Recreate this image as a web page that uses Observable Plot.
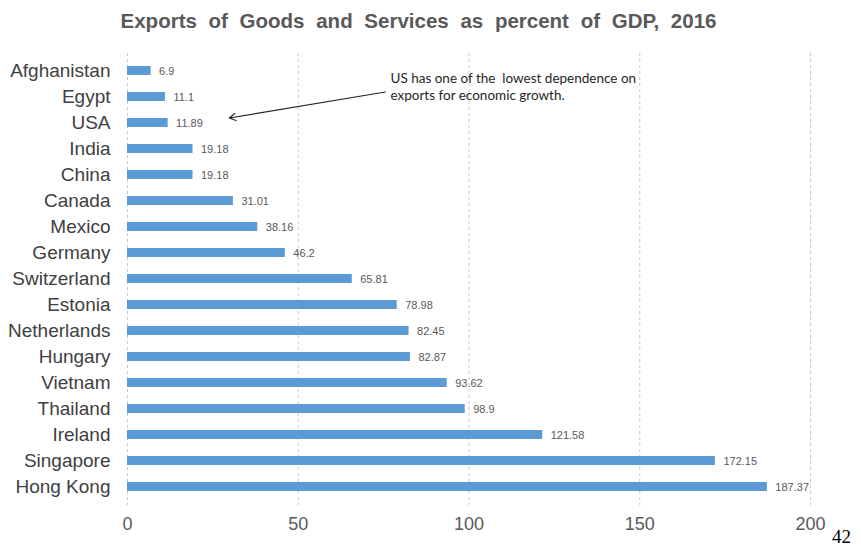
<!DOCTYPE html>
<html><head><meta charset="utf-8">
<script src="https://cdn.jsdelivr.net/npm/d3@7"></script>
<script src="https://cdn.jsdelivr.net/npm/@observablehq/plot@0.6"></script>
<style>
body{margin:0;background:#fff;}
#wrap{position:relative;width:861px;height:547px;overflow:hidden;}
#title{position:absolute;top:9px;left:0;width:837px;text-align:center;font:bold 20.5px "Liberation Sans",Arial,sans-serif;color:#595959;word-spacing:6px;white-space:nowrap;}
#page{position:absolute;left:832px;top:526px;font:19px "Liberation Serif","DejaVu Serif",serif;color:#000;}
</style></head>
<body>
<div id="wrap"><div id="chart"></div><div id="title"></div><div id="page"></div></div>
<script>
const titleText = "Exports of Goods and Services as percent of GDP, 2016";
const pageNumber = "42";
const countries = ["Afghanistan","Egypt","USA","India","China","Canada","Mexico","Germany","Switzerland","Estonia","Netherlands","Hungary","Vietnam","Thailand","Ireland","Singapore","Hong Kong"];
const values = [6.9,11.1,11.89,19.18,19.18,31.01,38.16,46.2,65.81,78.98,82.45,82.87,93.62,98.9,121.58,172.15,187.37];
const xTicks = [0,50,100,150,200];
const annotationText = "US has one of the  lowest dependence on\nexports for economic growth.";
const annotationAt = {x: 77, y: "Afghanistan"};
const arrowFrom = {x: 75.5, y: "Egypt"};
const arrowTo = {x: 29.8, y: "USA"};

const data = countries.map((c, i) => ({country: c, value: values[i]}));

document.getElementById("title").textContent = titleText;
document.getElementById("page").textContent = pageNumber;

const chart = Plot.plot({
  width: 861,
  height: 547,
  marginLeft: 127,
  marginRight: 51,
  marginTop: 53,
  marginBottom: 42,
  style: {fontFamily: "'Liberation Sans', Arial, sans-serif", background: "#fff"},
  x: {domain: [0, 200], ticks: xTicks},
  y: {domain: countries, paddingInner: 0.64, paddingOuter: 0.32},
  marks: [
    Plot.gridX(xTicks, {stroke: "#c8c8c8", strokeOpacity: 1, strokeDasharray: "3,3", strokeWidth: 1}),
    Plot.barX(data, {x: "value", y: "country", fill: "#5b9bd5"}),
    Plot.text(data, {x: "value", y: "country", text: d => String(d.value), textAnchor: "start", dx: 8, fontSize: 11, fill: "#595959"}),
    Plot.axisX({ticks: xTicks, tickSize: 0, tickPadding: 12, fontSize: 18, color: "#595959", label: null}),
    Plot.axisY({tickSize: 0, tickPadding: 17, fontSize: 19, color: "#404040", label: null}),
    Plot.text([annotationAt], {x: "x", y: "y", text: () => annotationText, textAnchor: "start", lineAnchor: "top", lineHeight: 1.26, fontSize: 13.5, fontFamily: "Lato, 'Open Sans', sans-serif", fill: "#262626", dy: 0}),
    Plot.arrow([{x1: arrowFrom.x, y1: arrowFrom.y, x2: arrowTo.x, y2: arrowTo.y}], {x1: "x1", y1: "y1", x2: "x2", y2: "y2", stroke: "#262626", strokeWidth: 1.2, headLength: 9, dy: -5})
  ]
});
document.getElementById("chart").appendChild(chart);
</script>
</body></html>
